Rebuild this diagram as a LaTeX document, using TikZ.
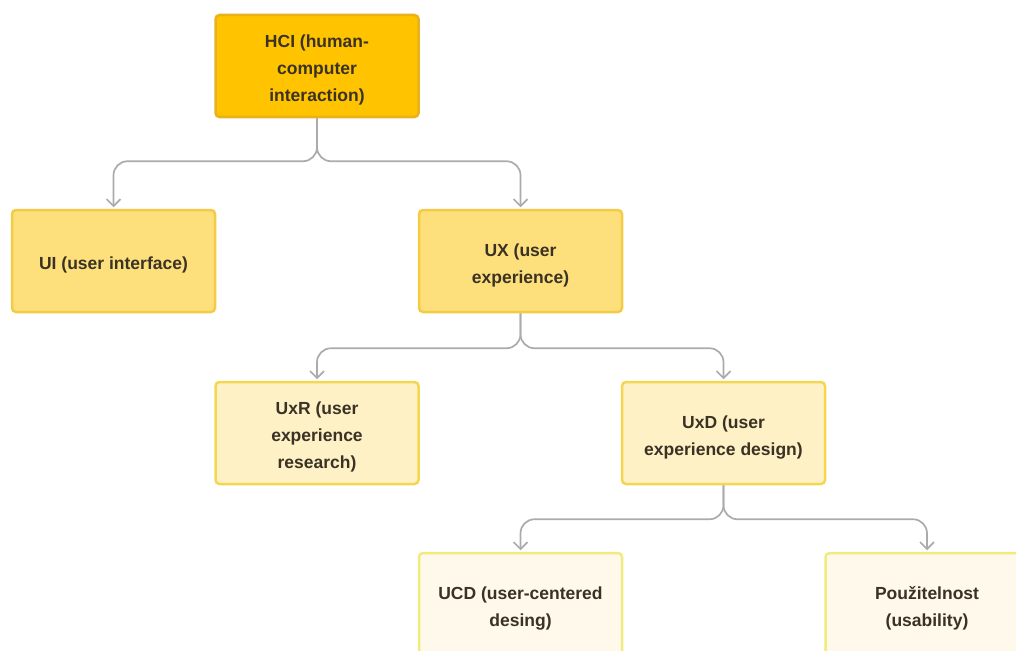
\documentclass[tikz,border=0pt]{standalone}
\usepackage{fontspec}
\setmainfont{Liberation Sans}
\usetikzlibrary{arrows.meta}
\definecolor{txt}{HTML}{3A3224}
\definecolor{cA}{HTML}{FFC300}
\definecolor{bA}{HTML}{E8B21E}
\definecolor{cB}{HTML}{FDDF7C}
\definecolor{bB}{HTML}{F4CB45}
\definecolor{cC}{HTML}{FEF1C6}
\definecolor{bC}{HTML}{F4D750}
\definecolor{cD}{HTML}{FEF9EA}
\definecolor{bD}{HTML}{F1EA7C}
\definecolor{ln}{HTML}{ABABAB}
\newcommand{\topstrut}{\rule{0pt}{21pt}}
\tikzset{
  box/.style={draw, line width=2.5pt, rounded corners=4pt, minimum width=203pt, minimum height=102pt,
    align=center, text=txt, font=\fontsize{17.5}{27}\selectfont\bfseries, inner sep=0pt},
  lvA/.style={box, fill=cA, draw=bA},
  lvB/.style={box, fill=cB, draw=bB},
  lvC/.style={box, fill=cC, draw=bC},
  lvD/.style={box, fill=cD, draw=bD},
  conn/.style={draw=ln, line width=1.7pt, rounded corners=14pt, shorten >=1.5pt,
    -{Straight Barb[length=7pt, width=14pt, line width=1.7pt]}}
}
\begin{document}
\begin{tikzpicture}[x=1pt, y=-1pt]
\useasboundingbox (0,0) rectangle (1016,650);
\clip (0,0) rectangle (1016,650);
\node[lvA] (hci) at (317,66) {\topstrut HCI (human-\\computer\\interaction)};
\node[lvB] (ui) at (113.5,261) {\topstrut UI (user interface)};
\node[lvB] (ux) at (520.5,261) {\topstrut UX (user\\experience)};
\node[lvC] (uxr) at (317,433) {\topstrut UxR (user\\experience\\research)};
\node[lvC] (uxd) at (723.5,433) {\topstrut UxD (user\\experience design)};
\node[lvD] (ucd) at (520.5,604) {\topstrut UCD (user-centered\\desing)};
\node[lvD] (pou) at (927,604) {\topstrut Použitelnost\\(usability)};
\draw[conn] (hci.south) -- ++(0,43) -| (ui.north);
\draw[conn] (hci.south) -- ++(0,43) -| (ux.north);
\draw[conn] (ux.south) -- ++(0,35) -| (uxr.north);
\draw[conn] (ux.south) -- ++(0,35) -| (uxd.north);
\draw[conn] (uxd.south) -- ++(0,34) -| (ucd.north);
\draw[conn] (uxd.south) -- ++(0,34) -| (pou.north);
\end{tikzpicture}
\end{document}
